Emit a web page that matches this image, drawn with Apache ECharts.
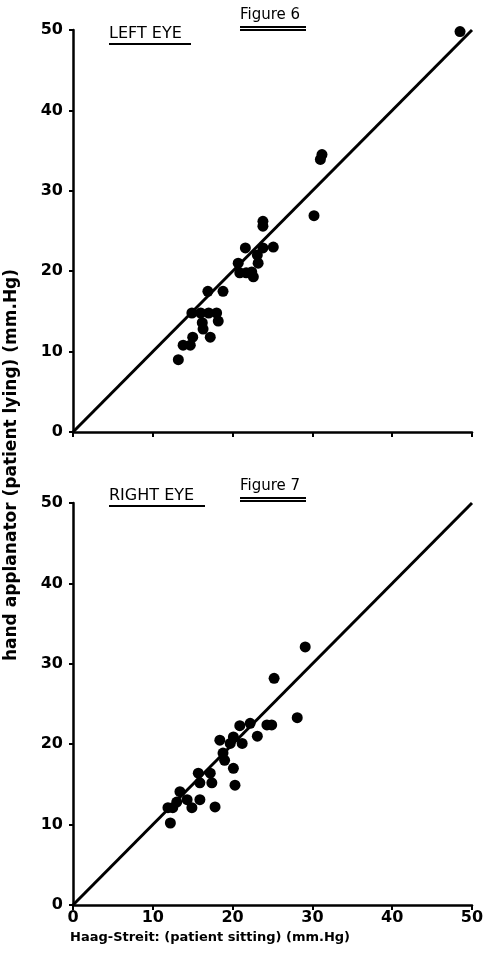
<!DOCTYPE html>
<html>
<head>
<meta charset="utf-8">
<script src="https://cdn.jsdelivr.net/npm/echarts@6/dist/echarts.min.js"></script>
<style>
html, body { margin: 0; padding: 0; background: #fff; }
#chart { width: 483px; height: 959px; }
</style>
</head>
<body>
<div id="chart"></div>
<script>
// Figure 6 - left eye (Haag-Streit sitting, hand applanator lying)
var leftEye = [
    [13.2, 9.0], [13.8, 10.8], [14.7, 10.8], [15.0, 11.8], [17.2, 11.8],
    [16.3, 12.8], [16.2, 13.6], [18.2, 13.8], [14.9, 14.8], [16.0, 14.8],
    [17.0, 14.8], [18.0, 14.8], [16.9, 17.5], [18.8, 17.5], [20.7, 21.0],
    [20.9, 19.8], [21.7, 19.8], [22.6, 19.3], [22.4, 19.9], [23.2, 21.0],
    [23.1, 22.0], [21.6, 22.9], [23.8, 22.9], [25.1, 23.0], [23.8, 25.6],
    [23.8, 26.2], [30.2, 26.9], [31.0, 33.9], [31.2, 34.5], [48.5, 49.8]
];
// Figure 7 - right eye
var rightEye = [
    [12.2, 10.2], [11.9, 12.1], [12.5, 12.1], [13.0, 12.8], [13.4, 14.1],
    [14.3, 13.1], [14.9, 12.1], [15.9, 13.1], [17.8, 12.2], [15.9, 15.2],
    [17.4, 15.2], [15.7, 16.4], [17.2, 16.4], [18.8, 18.9], [19.0, 18.0],
    [20.1, 17.0], [20.3, 14.9], [18.4, 20.5], [19.7, 20.1], [20.1, 20.9],
    [21.2, 20.1], [20.9, 22.3], [22.2, 22.6], [23.1, 21.0], [24.3, 22.4],
    [24.9, 22.4], [28.1, 23.3], [25.2, 28.2], [29.1, 32.1]
];
var identityLine = [[0, 0], [50, 50]];
var tickValues = [0, 10, 20, 30, 40, 50];

var font = 'DejaVu Sans';
var labelStyle = { color: '#000', fontFamily: font, fontSize: 16, fontWeight: 'bold' };

function fmt(v) { return tickValues.indexOf(v) >= 0 ? String(v) : ''; }

function xAxisFor(idx, showLabels) {
    return {
        type: 'value', gridIndex: idx, min: 0, max: 50, interval: 10,
        axisLine: { show: true, lineStyle: { color: '#000', width: 2.5 } },
        axisTick: { show: true, length: 5, lineStyle: { color: '#000', width: 2 } },
        axisLabel: Object.assign({ show: showLabels, margin: 5, formatter: fmt }, labelStyle),
        splitLine: { show: false }
    };
}
function yAxisFor(idx) {
    return {
        type: 'value', gridIndex: idx, min: 0, max: 50, interval: 10,
        axisLine: { show: true, lineStyle: { color: '#000', width: 2.5 } },
        axisTick: { show: true, length: 4, lineStyle: { color: '#000', width: 2 } },
        axisLabel: Object.assign({ margin: 10, formatter: fmt }, labelStyle),
        splitLine: { show: false }
    };
}
function dots(idx, data) {
    return {
        type: 'scatter', xAxisIndex: idx, yAxisIndex: idx, data: data,
        symbol: 'circle', symbolSize: 11,
        itemStyle: { color: '#000', opacity: 1 }, z: 3
    };
}
function diag(idx) {
    return {
        type: 'line', xAxisIndex: idx, yAxisIndex: idx, data: identityLine,
        symbol: 'none', lineStyle: { color: '#000', width: 3 }, z: 2
    };
}
function label(text, left, top, size, weight) {
    return {
        type: 'text', left: left, top: top,
        style: { text: text, fill: '#000', font: (weight || 'bold') + ' ' + size + 'px "' + font + '"' }
    };
}
function underline(x1, x2, y) {
    return {
        type: 'line', shape: { x1: x1, y1: y, x2: x2, y2: y },
        style: { stroke: '#000', lineWidth: 2 }
    };
}

var chart = echarts.init(document.getElementById('chart'));
chart.setOption({
    backgroundColor: '#fff',
    animation: false,
    grid: [
        { left: 73, right: 11, top: 30, height: 402, outerBoundsMode: 'none' },
        { left: 73, right: 11, top: 503, height: 402, outerBoundsMode: 'none' }
    ],
    xAxis: [xAxisFor(0, false), xAxisFor(1, true)],
    yAxis: [yAxisFor(0), yAxisFor(1)],
    series: [diag(0), dots(0, leftEye), diag(1), dots(1, rightEye)],
    graphic: [
        label('LEFT EYE', 109, 26, 16, 'normal'),
        underline(109, 191, 44),
        label('Figure 6', 240, 8, 15, 'normal'),
        underline(240, 306, 27),
        underline(240, 306, 30),
        label('RIGHT EYE', 109, 488, 16, 'normal'),
        underline(109, 205, 506),
        label('Figure 7', 240, 479, 15, 'normal'),
        underline(240, 306, 498),
        underline(240, 306, 501),
        {
            type: 'text', x: 12, y: 465, rotation: Math.PI / 2,
            style: {
                text: 'hand applanator (patient lying) (mm.Hg)', fill: '#000',
                font: 'bold 17px "' + font + '"', align: 'center', verticalAlign: 'middle'
            }
        },
        label('Haag-Streit: (patient sitting) (mm.Hg)', 70, 931, 13)
    ]
});
</script>
</body>
</html>
